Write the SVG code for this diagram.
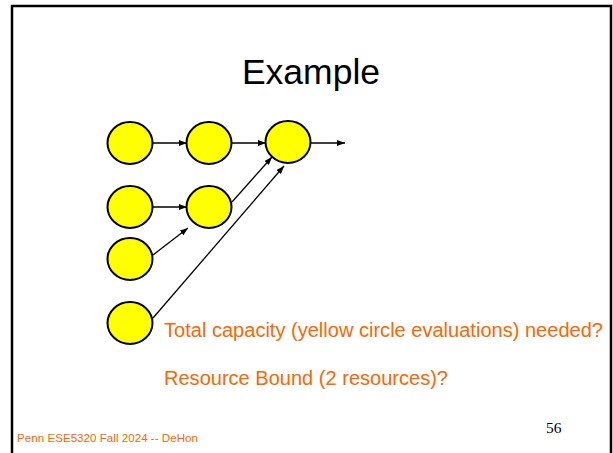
<svg xmlns="http://www.w3.org/2000/svg" width="613" height="453" viewBox="0 0 613 453">
<defs>
<marker id="ah" markerWidth="8" markerHeight="6" refX="8" refY="3" orient="auto" markerUnits="userSpaceOnUse">
<path d="M0,0 L8,3 L0,6 z" fill="#000"/>
</marker>
<style>
.n{fill:#FFFF00;stroke:#000;stroke-width:2}
.e{stroke:#000;stroke-width:1.3;fill:none;marker-end:url(#ah)}
.o{font-family:"Liberation Sans",Arial,sans-serif;fill:#FF6600}
</style>
</defs>
<rect width="613" height="453" fill="#fff"/>
<path d="M12,453 V6 H611 V453" fill="none" stroke="#000" stroke-width="2.5"/>
<text x="311" y="84" font-family="Liberation Sans,Arial,sans-serif" font-size="35.5" text-anchor="middle">Example</text>
<g id="connectors">
<line class="e" x1="153" y1="143" x2="187" y2="143"/>
<line class="e" x1="232" y1="143" x2="266" y2="143"/>
<line class="e" x1="311" y1="143" x2="345" y2="143"/>
<line class="e" x1="153" y1="207" x2="187" y2="207"/>
<line class="e" x1="232" y1="202" x2="272" y2="157"/>
<line class="e" x1="153" y1="255" x2="188" y2="228"/>
<line class="e" x1="153" y1="318" x2="284" y2="166"/>
</g>
<g id="n1"><ellipse class="n" cx="130" cy="143" rx="22.5" ry="21"/></g>
<g id="n2"><ellipse class="n" cx="209" cy="143" rx="22.5" ry="21"/></g>
<g id="n3"><ellipse class="n" cx="288" cy="142" rx="22.5" ry="21"/></g>
<g id="n4"><ellipse class="n" cx="130" cy="207" rx="22.5" ry="21"/></g>
<g id="n5"><ellipse class="n" cx="209" cy="207" rx="22.5" ry="21"/></g>
<g id="n6"><ellipse class="n" cx="130" cy="259" rx="22.5" ry="21"/></g>
<g id="n7"><ellipse class="n" cx="130" cy="323" rx="22.5" ry="21"/></g>
<text class="o" x="164" y="337" font-size="20" textLength="439" lengthAdjust="spacingAndGlyphs">Total capacity (yellow circle evaluations) needed?</text>
<text class="o" x="164" y="385" font-size="20" textLength="284" lengthAdjust="spacingAndGlyphs">Resource Bound (2 resources)?</text>
<text class="o" x="17" y="442" font-size="11" textLength="181" lengthAdjust="spacingAndGlyphs">Penn ESE5320 Fall 2024 -- DeHon</text>
<text x="546" y="433" font-family="Liberation Serif,Times New Roman,serif" font-size="15.5">56</text>
</svg>
